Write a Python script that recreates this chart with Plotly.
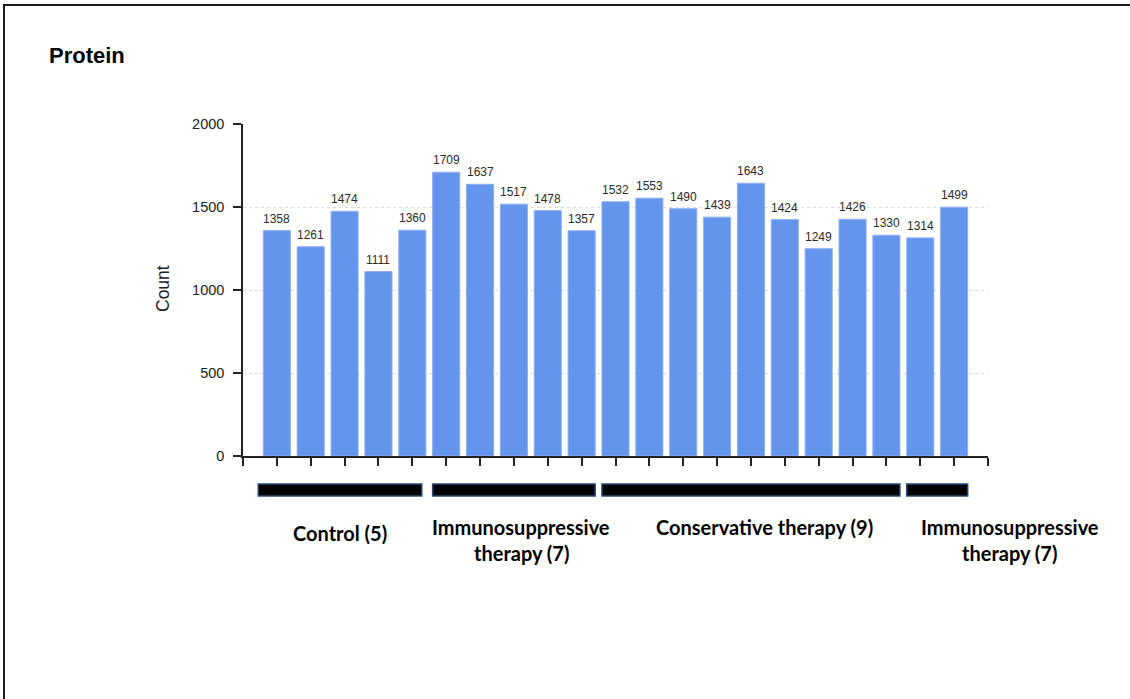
import plotly.graph_objects as go

# ---- data ----
values = [1358, 1261, 1474, 1111, 1360, 1709, 1637, 1517, 1478, 1357,
          1532, 1553, 1490, 1439, 1643, 1424, 1249, 1426, 1330, 1314, 1499]
group_first = [0, 5, 10, 19]
group_last = [4, 9, 18, 20]
group_lines = [["Control (5)"],
               ["Immunosuppressive", "therapy (7)"],
               ["Conservative therapy (9)"],
               ["Immunosuppressive", "therapy (7)"]]
y_ticks = [0, 500, 1000, 1500, 2000]
title_text = "Protein"
y_title = "Count"

# ---- figure ----
W, H = 1130, 699
L, R, T, B = 243, 142, 124, 243
pw, ph = W - L - R, H - T - B


def py(px_y):
    return 1 - (px_y - T) / ph


def px(px_x):
    return (px_x - L) / pw


xs = list(range(len(values)))
fig = go.Figure(go.Bar(
    x=xs, y=values,
    marker=dict(color="#6495ED", line=dict(color="#8fb0f0", width=1)),
    width=0.8, hoverinfo="skip",
))

shapes = []
# page frame (top and left edges visible)
shapes.append(dict(type="rect", xref="paper", yref="paper",
                   x0=px(4), x1=px(1160), y0=py(730), y1=py(5),
                   line=dict(color="#1a1a1a", width=2), fillcolor="rgba(0,0,0,0)",
                   layer="below"))
annotations = []
for x, v in zip(xs, values):
    annotations.append(dict(xref="x", yref="y", x=x, y=v, text=str(v),
                            showarrow=False, xanchor="center", yanchor="bottom",
                            yshift=3,
                            font=dict(family="Liberation Sans, Arial", size=12,
                                      color="#2a2a2a")))

for i, (a, b) in enumerate(zip(group_first, group_last)):
    x0 = a - 0.4 - (0.15 if i == 0 else 0)
    x1 = b + 0.4 - (0.12 if i == 0 else 0)
    shapes.append(dict(type="rect", xref="x", yref="paper",
                       x0=x0, x1=x1, y0=py(496), y1=py(484),
                       fillcolor="black", line=dict(color="#2b4a7a", width=1.5)))

label_x_px = [340, 521, 764, 1010]
for i, lines in enumerate(group_lines):
    if len(lines) == 1:
        ys = [533 if i == 0 else 527]
    else:
        ys = [527, 553]
    for line, yy in zip(lines, ys):
        annotations.append(dict(xref="paper", yref="paper", x=px(label_x_px[i]),
                                y=py(yy), text=line, showarrow=False,
                                xanchor="center", yanchor="middle",
                                font=dict(family="Lato, Open Sans", size=20,
                                          color="black", weight="bold")))

annotations.append(dict(xref="paper", yref="paper", x=px(47), y=py(55),
                        text=title_text, showarrow=False, xanchor="left",
                        yanchor="middle",
                        font=dict(family="Liberation Sans, Arial", size=22,
                                  color="black", weight="bold")))
annotations.append(dict(xref="paper", yref="paper", x=px(163), y=py(289),
                        text=y_title, showarrow=False, textangle=-90,
                        xanchor="center", yanchor="middle",
                        font=dict(family="Liberation Sans, Arial", size=17.5,
                                  color="#222")))

fig.update_layout(
    width=W, height=H,
    margin=dict(l=L, r=R, t=T, b=B, autoexpand=False),
    paper_bgcolor="white", plot_bgcolor="white",
    showlegend=False, shapes=shapes, annotations=annotations,
    bargap=0.2,
    xaxis=dict(range=[-1, 21], tickmode="linear", tick0=-1, dtick=1,
               showticklabels=False, ticks="outside", ticklen=8,
               tickcolor="#222", tickwidth=1.5, showline=True,
               linecolor="#222", linewidth=1.5, showgrid=False, zeroline=False,
               fixedrange=True),
    yaxis=dict(range=[0, 2000], tickvals=y_ticks,
               ticktext=[str(t) for t in y_ticks], ticks="outside", ticklen=8,
               tickcolor="#222", tickwidth=1.5, showline=True,
               linecolor="#222", linewidth=1.5, showgrid=True,
               gridcolor="#dcdcdc", griddash="dot", gridwidth=1,
               zeroline=False, ticklabelstandoff=6,
               tickfont=dict(family="Liberation Sans, Arial", size=14.5,
                             color="#222"), fixedrange=True),
)

fig.write_html("out.html", config={"displayModeBar": False},
               post_script="document.body.style.margin='0';document.body.style.padding='0';")
